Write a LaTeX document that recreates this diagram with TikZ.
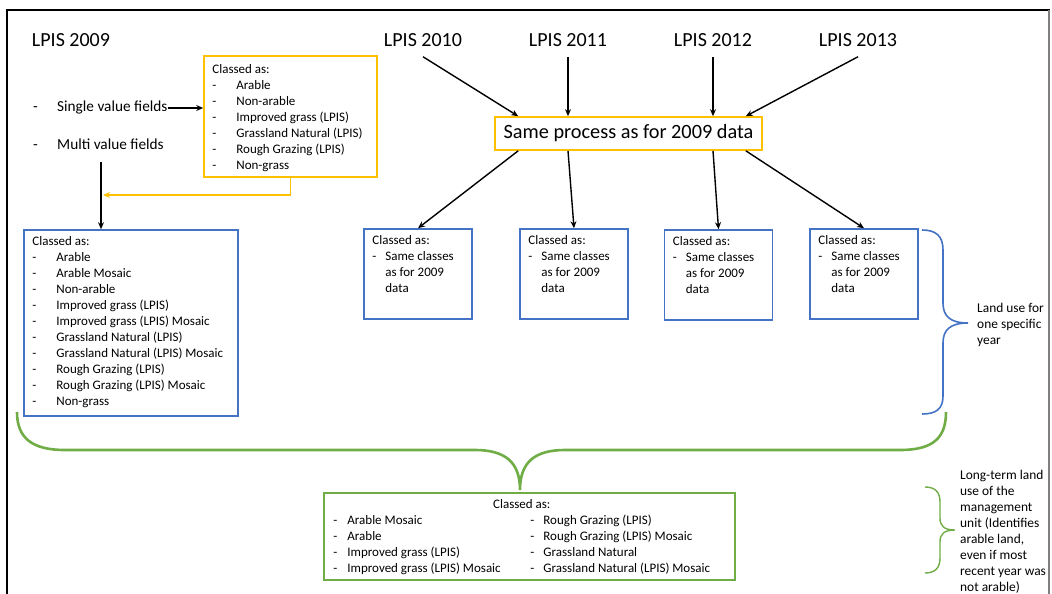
\documentclass[tikz,border=0pt]{standalone}
\usepackage{fontspec}
\setmainfont{Carlito}
\usetikzlibrary{arrows.meta}
\definecolor{lpisblue}{HTML}{4472C4}
\definecolor{lpisgold}{HTML}{FFC000}
\definecolor{lpisgreen}{HTML}{70AD47}

\begin{document}
\begin{tikzpicture}[x=1pt,y=-1pt,
  yearlbl/.style={font=\fontsize{20}{24}\selectfont,inner xsep=0pt,inner ysep=10pt},
  bluebox/.style={draw=lpisblue,line width=1.6pt,inner sep=0pt},
  listtxt/.style={anchor=north west,inner sep=0pt,font=\fontsize{13}{16}\selectfont},
  sidetxt/.style={anchor=north west,inner sep=0pt,font=\fontsize{13.4}{16}\selectfont},
  flow/.style={line width=1.4pt,-{Stealth[length=7pt,width=6pt]}}]
\useasboundingbox (0,0) rectangle (1052,594);

\draw[line width=1.6pt] (7,594) -- (7,10) -- (1050,10) ; % frame
\draw[line width=1.2pt,color=gray] (1049,10) -- (1049,594) ;

\node[yearlbl] (lp09) at (71,40) {LPIS 2009};
\node[yearlbl] (lp10) at (423,40) {LPIS 2010};
\node[yearlbl] (lp11) at (568,40) {LPIS 2011};
\node[yearlbl] (lp12) at (713,40) {LPIS 2012};
\node[yearlbl] (lp13) at (858,40) {LPIS 2013};

\node[anchor=west,inner sep=0pt,font=\fontsize{15.3}{18}\selectfont] (sv) at (33,108)
  {\begin{tabular}{@{}p{24pt}@{}l@{}}- & Single value fields\end{tabular}};
\node[anchor=west,inner sep=0pt,font=\fontsize{15.3}{18}\selectfont] (mv) at (33,146)
  {\begin{tabular}{@{}p{24pt}@{}l@{}}- & Multi value fields\end{tabular}};
\coordinate (mvout) at (101,162);
\coordinate (join) at (103,195);

\node[draw=lpisgold,line width=1.6pt,minimum width=173pt,minimum height=121pt] (ybox) at (290.5,116.5) {};
\node[listtxt] (ytxt) at ([shift={(9,7)}]ybox.north west) {\begin{tabular}{@{}p{24pt}@{}l@{}}
\multicolumn{2}{@{}l@{}}{Classed as:}\\
- & Arable\\
- & Non-arable\\
- & Improved grass (LPIS)\\
- & Grassland Natural (LPIS)\\
- & Rough Grazing (LPIS)\\
- & Non-grass
\end{tabular}};

\node[bluebox,minimum width=214pt,minimum height=186pt] (big) at (131,323) {};
\node[listtxt] (bigtxt) at ([shift={(9,5)}]big.north west) {\begin{tabular}{@{}p{24pt}@{}l@{}}
\multicolumn{2}{@{}l@{}}{Classed as:}\\
- & Arable\\
- & Arable Mosaic\\
- & Non-arable\\
- & Improved grass (LPIS)\\
- & Improved grass (LPIS) Mosaic\\
- & Grassland Natural (LPIS)\\
- & Grassland Natural (LPIS) Mosaic\\
- & Rough Grazing (LPIS)\\
- & Rough Grazing (LPIS) Mosaic\\
- & Non-grass
\end{tabular}};

\draw[flow] (sv.east) -- (sv.east -| ybox.west) ;
\draw[flow] (mvout) -- (mvout |- big.north) ;
\draw[flow,color=lpisgold,line width=1.8pt] (ybox.south) |- (join) ;

\node[draw=lpisgold,line width=1.6pt,minimum width=267pt,minimum height=33pt,inner sep=0pt,
  font=\fontsize{20.3}{24}\selectfont] (proc) at (628.5,133.5) {Same process as for 2009 data};

\node[bluebox,minimum width=108pt,minimum height=90pt] (b1) at (418,274) {};
\node[bluebox,minimum width=108pt,minimum height=90pt] (b2) at (574,274) {};
\node[bluebox,minimum width=108pt,minimum height=90pt] (b3) at (718.5,275) {};
\node[bluebox,minimum width=108pt,minimum height=90pt] (b4) at (864,274) {};
\foreach \b in {b1,b2,b3,b4}
  \node[listtxt] (\b-txt) at ([shift={(9,5)}]\b.north west) {\begin{tabular}{@{}p{13pt}@{}l@{}}
  \multicolumn{2}{@{}l@{}}{Classed as:}\\
  - & Same classes\\
    & as for 2009\\
    & data
  \end{tabular}};

\draw[flow] (lp10.south) -- ([xshift=24pt]proc.north west) ;
\draw[flow] (lp11.south) -- (lp11.south |- proc.north) ;
\draw[flow] (lp12.south) -- (lp12.south |- proc.north) ;
\draw[flow] (lp13.south) -- ([xshift=-17pt]proc.north east) ;
\draw[flow] ([xshift=24pt]proc.south west) -- (b1.north) ;
\draw[flow] (lp11 |- proc.south) -- (b2.north) ;
\draw[flow] (lp12 |- proc.south) -- (b3.north) ;
\draw[flow] ([xshift=-17pt]proc.south east) -- (b4.north) ;

\draw[line width=1.6pt,color=lpisblue] (922,230) .. controls (936,230) and (943,236) .. (943,250) -- (943,303)
  .. controls (943,316) and (950,323) .. (968,323) .. controls (950,323) and (943,330) .. (943,343)
  -- (943,396) .. controls (943,409) and (936,414) .. (922,414) ; % year brace
\node[sidetxt] (yeartxt) at (977,301) {\begin{tabular}{@{}l@{}}Land use for\\one specific\\year\end{tabular}};

\draw[line width=2.6pt,color=lpisgreen] (17,412) .. controls (17,438) and (32,450) .. (65,450) -- (475,450)
  .. controls (505,450) and (520,462) .. (520,490) .. controls (520,462) and (535,450) .. (565,450)
  -- (900,450) .. controls (933,450) and (946,438) .. (946,412) ; % all years brace

\node[draw=lpisgreen,line width=1.6pt,minimum width=411pt,minimum height=87pt,inner sep=0pt] (lt) at (529.5,536.5) {};
\node[listtxt] (lttxt) at ([shift={(10,5)}]lt.north west) {\begin{tabular}{@{}p{14pt}@{}p{183pt}@{}p{13pt}@{}l@{}}
\multicolumn{4}{c}{Classed as:}\\
- & Arable Mosaic & - & Rough Grazing (LPIS)\\
- & Arable & - & Rough Grazing (LPIS) Mosaic\\
- & Improved grass (LPIS) & - & Grassland Natural\\
- & Improved grass (LPIS) Mosaic & - & Grassland Natural (LPIS) Mosaic
\end{tabular}};

\draw[line width=1.4pt,color=lpisgreen] (925,487) .. controls (935,487) and (940,492) .. (940,502) -- (940,518)
  .. controls (940,526) and (944,530) .. (955,530) .. controls (944,530) and (940,534) .. (940,542)
  -- (940,558) .. controls (940,568) and (935,573) .. (925,573) ; % long-term brace
\node[sidetxt] (longtxt) at (960,468) {\begin{tabular}{@{}l@{}}Long-term land\\use of the\\management\\unit (Identifies\\arable land,\\even if most\\recent year was\\not arable)\end{tabular}};
\end{tikzpicture}
\end{document}
